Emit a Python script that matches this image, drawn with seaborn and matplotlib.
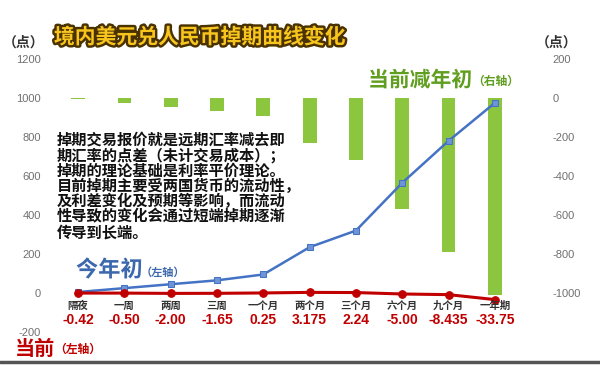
import numpy as np
import pandas as pd
import matplotlib
matplotlib.use("Agg")
import matplotlib.pyplot as plt
import matplotlib.patheffects as pe
import matplotlib.transforms as mtransforms
import seaborn as sns

# ---- data ----
categories = ["隔夜", "一周", "两周", "三周", "一个月", "两个月", "三个月", "六个月", "九个月", "一年期"]
current = [-0.42, -0.50, -2.00, -1.65, 0.25, 3.175, 2.24, -5.00, -8.435, -33.75]
current_labels = ["-0.42", "-0.50", "-2.00", "-1.65", "0.25", "3.175", "2.24", "-5.00", "-8.435", "-33.75"]
year_start = [5, 25, 45, 65, 95, 235, 320, 565, 780, 975]
diff = [-5.4, -25.5, -47.0, -66.6, -94.75, -231.8, -317.8, -570.0, -788.4, -1008.75]
left_ticks = [-200, 0, 200, 400, 600, 800, 1000, 1200]
right_ticks = [-1000, -800, -600, -400, -200, 0, 200]

note = ("掉期交易报价就是远期汇率减去即\n期汇率的点差（未计交易成本）；\n掉期的理论基础是利率平价理论。\n"
        "目前掉期主要受两国货币的流动性，\n及利差变化及预期等影响，而流动\n性导致的变化会通过短端掉期逐渐\n传导到长端。")

sns.set_theme(style="white")
CJK = ["Noto Sans CJK SC", "DejaVu Sans"]
plt.rcParams["font.family"] = CJK
plt.rcParams["axes.unicode_minus"] = False

df = pd.DataFrame({"cat": categories, "cur": current, "ys": year_start, "diff": diff,
                   "idx": np.arange(len(categories))})

fig = plt.figure(figsize=(6, 3.65), dpi=100)
fig.patch.set_facecolor("white")
ax_b = fig.add_axes([55/600, 1-332/365, 463/600, 273/365])
ax_l = ax_b.twinx()

# bars on right axis (drawn beneath lines)
sns.barplot(data=df, x="idx", y="diff", ax=ax_b, color="#8cc63e", width=0.3,
            saturation=1, native_scale=True, edgecolor="none")
ax_b.set_ylim(-1200, 200)
ax_b.set_xlim(-0.5, len(categories)-0.5)
ax_b.yaxis.tick_right()
ax_b.set_yticks(right_ticks)
ax_b.set_yticklabels([str(t) for t in right_ticks], fontsize=8, color="#707070",
                     family=["Liberation Sans"])
ax_b.tick_params(axis="y", length=0, pad=25)
ax_b.set_ylabel("")
ax_b.set_xlabel("")

# lines on left axis
sns.lineplot(data=df, x="idx", y="ys", ax=ax_l, color="#4472c4", linewidth=1.8,
             marker="s", markersize=4, markerfacecolor="#6f94d6", markeredgecolor="#4472c4")
sns.lineplot(data=df, x="idx", y="cur", ax=ax_l, color="#c00000", linewidth=2.2,
             marker="o", markersize=5.5, markerfacecolor="#c00000", markeredgecolor="#c00000")
ax_l.set_ylim(-200, 1200)
ax_l.set_xlim(-0.5, len(categories)-0.5)
ax_l.yaxis.tick_left()
ax_l.yaxis.set_label_position("left")
ax_l.set_yticks(left_ticks)
ax_l.set_yticklabels([str(t) for t in left_ticks], fontsize=8, color="#707070",
                     family=["Liberation Sans"])
ax_l.tick_params(axis="y", length=0, pad=10)
ax_l.set_ylabel("")
ax_l.set_xlabel("")

for a in (ax_b, ax_l):
    for s in a.spines.values():
        s.set_visible(False)
    a.grid(False)
    a.set_xticks([])

# category and value labels
trans = mtransforms.blended_transform_factory(ax_l.transData, ax_l.transAxes)
for i, (c, v) in enumerate(zip(categories, current_labels)):
    ax_l.text(i, 0.095, c, transform=trans, ha="center", va="center", fontsize=7.5,
              fontweight="bold", color="#333333")
    ax_l.text(i, 0.044, v, transform=trans, ha="center", va="center", fontsize=10,
              fontweight="bold", color="#c00000", family=["Liberation Sans"])

# title
fig.text(200/600, 1-37/365, "境内美元兑人民币掉期曲线变化", ha="center", va="center",
         fontsize=15, fontweight="heavy", color="#f7c51e",
         path_effects=[pe.withStroke(linewidth=3.5, foreground="#4a3200")])
fig.text(24/600, 1-43/365, "（点）", ha="center", va="center", fontsize=10,
         fontweight="bold", color="#333333")
fig.text(557/600, 1-43/365, "（点）", ha="center", va="center", fontsize=10,
         fontweight="bold", color="#333333")

# series annotations
white = [pe.withStroke(linewidth=2.5, foreground="white")]
fig.text(15/600, 1-348/365, "当前", ha="left", va="center", fontsize=14.5,
         fontweight="heavy", color="#c00000")
fig.text(54/600, 1-349/365, "（左轴）", ha="left", va="center", fontsize=8.5,
         fontweight="bold", color="#c00000")
fig.text(76/600, 1-270/365, "今年初", ha="left", va="center", fontsize=16,
         fontweight="heavy", color="#3c68ad", path_effects=white)
fig.text(141/600, 1-272/365, "（左轴）", ha="left", va="center", fontsize=8,
         fontweight="bold", color="#3c68ad")
fig.text(368/600, 1-80/365, "当前减年初", ha="left", va="center", fontsize=15,
         fontweight="heavy", color="#5f9e1e", path_effects=white)
fig.text(472/600, 1-81/365, "（右轴）", ha="left", va="center", fontsize=8.5,
         fontweight="bold", color="#5f9e1e")

# note
fig.text(57/600, 1-132/365, note, ha="left", va="top", fontsize=11, color="#111111",
         linespacing=0.95, fontweight="bold")

# bottom border line
fig.add_artist(plt.Line2D([0, 1], [1-362/365, 1-362/365], color="#555555", linewidth=2.5,
                          transform=fig.transFigure))

fig.savefig("out.png", dpi=100, facecolor="white")
